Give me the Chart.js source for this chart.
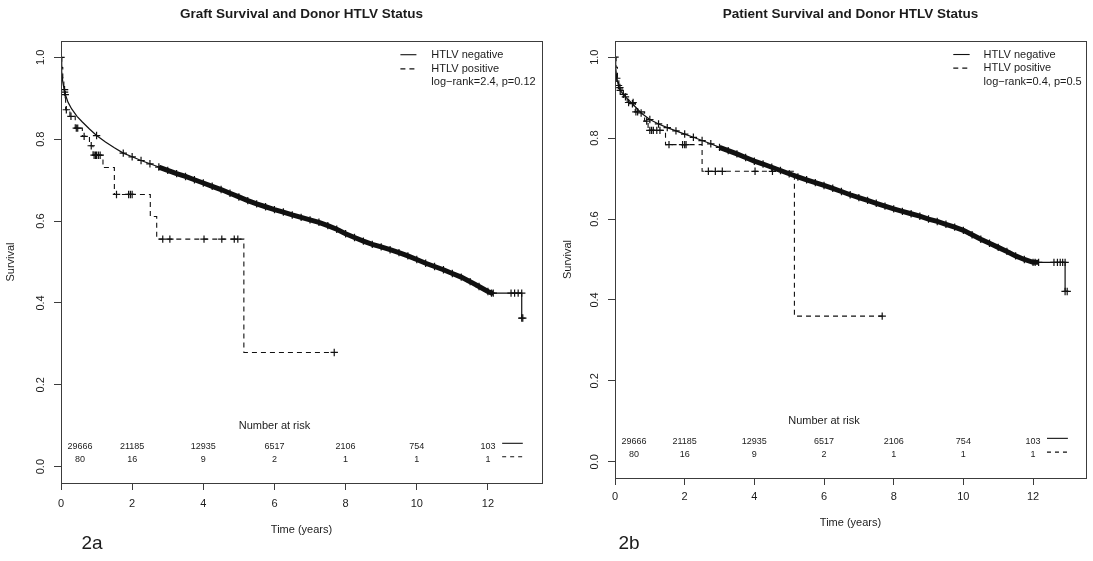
<!DOCTYPE html>
<html><head><meta charset="utf-8">
<script src="https://cdn.jsdelivr.net/npm/chart.js@4.4.1/dist/chart.umd.min.js"></script>
<style>
html,body{margin:0;padding:0;background:#fff;width:1093px;height:561px;overflow:hidden;}
canvas{position:absolute;top:0;}
#c1{left:0}
#c2{left:556px}
</style></head><body>
<canvas id="c1" width="556" height="561"></canvas>
<canvas id="c2" width="537" height="561"></canvas>
<script>
// ---------------- DATA ----------------
const xTicks = [0, 2, 4, 6, 8, 10, 12];
const yTicks = [0, 0.2, 0.4, 0.6, 0.8, 1.0];
const riskTimes = [0, 2, 4, 6, 8, 10, 12];
const riskNeg = [29666, 21185, 12935, 6517, 2106, 754, 103];
const riskPos = [80, 16, 9, 2, 1, 1, 1];
const seriesNames = ["HTLV negative", "HTLV positive"];

// Graft survival (2a)
const graftNegT = [0,0.02,0.05,0.1,0.2,0.3,0.45,0.6,0.8,1.0,
  1.25,1.5,1.75,2.0,2.25,2.5,2.75,3.0,3.25,3.5,3.75,4.0,4.25,4.5,4.75,5.0,5.25,5.5,5.75,6.0,
  6.25,6.5,6.75,7.0,7.25,7.5,7.75,8.0,8.25,8.5,8.75,9.0,9.25,9.5,9.75,10.0,10.25,10.5,10.75,11.0,
  11.25,11.5,11.75,12.0,12.1,12.15,12.65,12.75,12.85,12.95,12.95,12.98];
const graftNegS = [1.0,0.965,0.94,0.915,0.89,0.874,0.856,0.842,0.825,0.809,
  0.793,0.779,0.766,0.757,0.748,0.740,0.732,0.724,0.716,0.709,0.701,0.693,0.685,0.677,0.668,0.659,0.650,0.642,0.635,0.628,
  0.622,0.615,0.609,0.603,0.597,0.589,0.580,0.569,0.560,0.551,0.543,0.537,0.530,0.523,0.515,0.506,0.497,0.489,0.481,0.472,
  0.463,0.452,0.440,0.428,0.424,0.424,0.424,0.424,0.424,0.424,0.363,0.363];
const graftPosT = [0,0.02,0.05,0.08,0.105,0.13,0.25,0.4,0.6,0.8,0.9,1.18,1.5,2.51,2.69,5.14,7.68];
const graftPosS = [1.0,0.975,0.95,0.921,0.909,0.872,0.856,0.827,0.807,0.784,0.761,0.731,0.665,0.611,0.556,0.279,0.279];
const graftPosCensT = [0.1,0.12,0.15,0.28,0.43,0.47,0.65,0.85,0.93,0.97,1.0,1.05,1.1,1.56,1.9,1.95,2.0,2.86,3.06,4.02,4.52,4.87,4.97,7.68];
const graftPosCensS = [0.921,0.909,0.872,0.856,0.827,0.827,0.807,0.784,0.761,0.761,0.761,0.761,0.761,0.665,0.665,0.665,0.665,0.556,0.556,0.556,0.556,0.556,0.556,0.279];

// Patient survival (2b)
const patNegT = [0,0.02,0.05,0.1,0.15,0.3,0.5,0.75,1.0,
  1.25,1.5,1.75,2.0,2.25,2.5,2.75,3.0,3.25,3.5,3.75,4.0,4.25,4.5,4.75,5.0,5.25,5.5,5.75,6.0,
  6.25,6.5,6.75,7.0,7.25,7.5,7.75,8.0,8.25,8.5,8.75,9.0,9.25,9.5,9.75,10.0,10.25,10.5,10.75,11.0,
  11.25,11.5,11.75,12.0,12.06,12.16,12.6,12.7,12.78,12.85,12.92,12.92,12.98];
const patNegS = [1.0,0.975,0.948,0.93,0.918,0.902,0.885,0.862,0.846,
  0.835,0.826,0.818,0.810,0.802,0.794,0.786,0.777,0.769,0.761,0.752,0.743,0.736,0.728,0.720,0.712,0.704,0.697,0.690,0.683,
  0.676,0.668,0.660,0.653,0.646,0.639,0.632,0.625,0.619,0.613,0.607,0.600,0.594,0.587,0.580,0.572,0.561,0.550,0.540,0.530,
  0.520,0.509,0.500,0.493,0.493,0.493,0.493,0.493,0.493,0.493,0.493,0.421,0.421];
const patPosT = [0,0.03,0.07,0.11,0.2,0.35,0.58,0.85,0.95,1.45,2.5,5.15,7.67];
const patPosS = [1.0,0.975,0.95,0.925,0.908,0.888,0.865,0.842,0.819,0.784,0.718,0.36,0.36];
const patPosCensT = [0.14,0.24,0.39,0.52,0.6,0.65,0.91,1.0,1.05,1.1,1.2,1.29,1.55,1.94,2.0,2.04,2.68,2.88,3.08,4.02,4.52,7.67];
const patPosCensS = [0.925,0.908,0.888,0.888,0.865,0.865,0.842,0.819,0.819,0.819,0.819,0.819,0.784,0.784,0.784,0.784,0.718,0.718,0.718,0.718,0.718,0.36];

// ---------------- RENDER ----------------
const FONT = "'Liberation Sans', Arial, Helvetica, sans-serif";
const INK = '#111';
const TXT = '#1c1c1c';
const AXIS = '#3c3c3c';
Chart.defaults.font.family = FONT;
Chart.defaults.color = TXT;

const pts = (T, S) => T.map((t, i) => ({x: t, y: S[i]}));

const decor = {
  id: 'decor',
  afterDraw(chart, args, o) {
    const {ctx, chartArea: a} = chart;
    const X = chart.scales.x, Y = chart.scales.y;
    const px = t => X.getPixelForValue(t), py = v => Y.getPixelForValue(v);
    ctx.save();
    ctx.strokeStyle = AXIS; ctx.lineWidth = 1;
    ctx.strokeRect(Math.round(a.left) + 0.5, Math.round(a.top) + 0.5, Math.round(a.right - a.left), Math.round(a.bottom - a.top));
    ctx.fillStyle = TXT;
    const cx = (a.left + a.right) / 2;
    ctx.font = 'bold 13.5px ' + FONT; ctx.textAlign = 'center'; ctx.textBaseline = 'middle';
    ctx.fillText(o.title, cx, o.titleY);
    ctx.font = '11px ' + FONT;
    ctx.fillText('Time (years)', cx, o.xTitleY);
    ctx.save();
    ctx.translate(o.yTitleX, (a.top + a.bottom) / 2);
    ctx.rotate(-Math.PI / 2);
    ctx.fillText('Survival', 0, 0);
    ctx.restore();
    ctx.font = '19px ' + FONT;
    ctx.fillText(o.panel, o.panelX, o.panelY);
    ctx.font = '11px ' + FONT; ctx.textAlign = 'left';
    ctx.strokeStyle = INK; ctx.lineWidth = 1.1;
    for (let i = 0; i < 3; i++) {
      const yy = py(o.legRows[i]);
      if (i < 2) {
        ctx.setLineDash(i === 1 ? [5, 4] : []);
        ctx.beginPath(); ctx.moveTo(px(o.legLine[0]), yy); ctx.lineTo(px(o.legLine[1]), yy); ctx.stroke();
      }
      const txt = i < 2 ? seriesNames[i] : o.stat;
      ctx.fillText(txt, px(o.legText), yy);
    }
    ctx.setLineDash([]);
    ctx.textAlign = 'center';
    ctx.fillText('Number at risk', px(6), py(o.narY));
    ctx.font = '9px ' + FONT;
    riskTimes.forEach((t, i) => {
      const xx = Math.max(px(t), a.left + o.riskMinDx);
      ctx.fillText(String(riskNeg[i]), xx, py(o.riskRows[0]));
      ctx.fillText(String(riskPos[i]), xx, py(o.riskRows[1]));
    });
    for (let i = 0; i < 2; i++) {
      ctx.setLineDash(i === 1 ? [4, 4] : []);
      const yy = py(o.riskLines[i]);
      ctx.beginPath(); ctx.moveTo(px(o.riskLineT[0]), yy); ctx.lineTo(px(o.riskLineT[1]), yy); ctx.stroke();
    }
    ctx.restore();
  }
};

function build(id, cfg) {
  const canvas = document.getElementById(id);
  const W = canvas.width, H = canvas.height;
  const band = cfg.band;
  new Chart(canvas, {
    type: 'line',
    data: {
      datasets: [
        {
          label: seriesNames[0],
          data: pts(cfg.negT, cfg.negS),
          borderColor: INK, borderWidth: 1.2, tension: 0, fill: false,
          pointStyle: 'cross', pointBorderColor: INK, pointBorderWidth: 1.2,
          pointRadius: c => cfg.mark(c.raw.x, c.dataIndex) ? 3.7 : 0,
          segment: { borderWidth: c => (c.p0.parsed.x >= band[0] && c.p1.parsed.x <= band[1]) ? band[2] : 1.2 }
        },
        {
          label: seriesNames[1],
          data: pts(cfg.posT, cfg.posS),
          borderColor: INK, borderWidth: 1.1, borderDash: [5, 4], stepped: true,
          pointRadius: 0, fill: false
        },
        {
          label: 'censored',
          data: pts(cfg.censT, cfg.censS),
          showLine: false, pointStyle: 'cross', pointRadius: 3.7,
          pointBorderColor: INK, pointBorderWidth: 1.2
        }
      ]
    },
    options: {
      responsive: false, animation: false, devicePixelRatio: 1,
      layout: { padding: { top: cfg.top, right: W - cfg.right, left: 0, bottom: 0 } },
      plugins: { legend: { display: false }, tooltip: { enabled: false }, decor: cfg.decor },
      scales: {
        x: {
          type: 'linear', min: 0, max: 13.52,
          afterBuildTicks: s => { s.ticks = xTicks.map(v => ({value: v})); },
          afterFit: s => { s.height = H - cfg.bottom; },
          ticks: { callback: v => String(v), font: { size: 11 }, color: TXT, padding: cfg.xPad, maxRotation: 0, autoSkip: false },
          grid: { drawOnChartArea: false, drawTicks: true, tickLength: 7, color: AXIS, lineWidth: 1 },
          border: { display: true, color: AXIS, width: 1 }
        },
        y: {
          type: 'linear', min: -0.04, max: 1.04,
          afterBuildTicks: s => { s.ticks = yTicks.map(v => ({value: v})); },
          afterFit: s => { s.width = cfg.left; },
          ticks: { callback: v => v.toFixed(1), font: { size: 11 }, color: TXT, padding: 5, minRotation: 90, maxRotation: 90, crossAlign: 'center', autoSkip: false },
          grid: { drawOnChartArea: false, drawTicks: true, tickLength: 7, color: AXIS, lineWidth: 1 },
          border: { display: true, color: AXIS, width: 1 }
        }
      }
    },
    plugins: [decor]
  });
}

build('c1', {
  negT: graftNegT, negS: graftNegS, posT: graftPosT, posS: graftPosS,
  censT: graftPosCensT, censS: graftPosCensS,
  mark: (t, i) => t === 0 || t === 0.1 || t === 1.0 || (t >= 1.75 && t <= 12.15) || t >= 12.6,
  band: [2.75, 12.15, 5],
  left: 61, right: 542, top: 41, bottom: 483, xPad: 7,
  decor: {
    title: 'Graft Survival and Donor HTLV Status', titleY: 14.5, xTitleY: 530, yTitleX: 11,
    panel: '2a', panelX: 92, panelY: 544,
    legLine: [9.54, 9.99], legText: 10.41, legRows: [1.0065, 0.972, 0.939], stat: 'log\u2212rank=2.4, p=0.12',
    narY: 0.1, riskRows: [0.048, 0.017], riskMinDx: 19, riskLines: [0.057, 0.024], riskLineT: [12.4, 12.98]
  }
});

build('c2', {
  negT: patNegT, negS: patNegS, posT: patPosT, posS: patPosS,
  censT: patPosCensT, censS: patPosCensS,
  mark: (t, i) => t === 0 || t >= 0.05,
  band: [3.0, 12.16, 5],
  left: 59, right: 530, top: 41, bottom: 478, xPad: 5.5,
  decor: {
    title: 'Patient Survival and Donor HTLV Status', titleY: 14.5, xTitleY: 523, yTitleX: 11.5,
    panel: '2b', panelX: 73, panelY: 544,
    legLine: [9.71, 10.18], legText: 10.58, legRows: [1.0066, 0.973, 0.939], stat: 'log\u2212rank=0.4, p=0.5',
    narY: 0.1, riskRows: [0.049, 0.019], riskMinDx: 19, riskLines: [0.058, 0.024], riskLineT: [12.4, 13.0]
  }
});
</script>
</body></html>
